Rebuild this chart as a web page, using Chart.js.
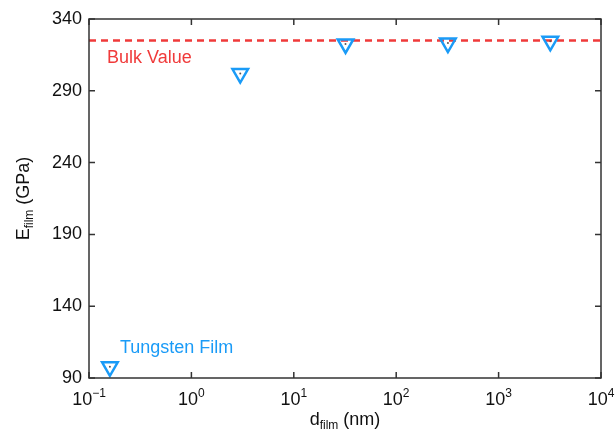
<!DOCTYPE html>
<html>
<head>
<meta charset="utf-8">
<script src="https://cdn.jsdelivr.net/npm/chart.js@4"></script>
<style>
  html, body { margin: 0; padding: 0; background: #fff; }
  #wrap { width: 615px; height: 437px; }
</style>
</head>
<body>
<div id="wrap"><canvas id="chart" width="615" height="437"></canvas></div>
<script>
// film thickness (nm) and modulus (GPa)
const dFilm = [0.16, 3, 32, 320, 3200];
const eFilm = [97.8, 302, 322.6, 323.2, 324.5];
const bulkValue = 325;
const bulkRange = [0.1, 10000];

const xTicks = [0.1, 1, 10, 100, 1000, 10000];
const xTickExp = ['\u22121', '0', '1', '2', '3', '4'];
const yTicks = [90, 140, 190, 240, 290, 340];

const blue = '#1a9bf7';
const red = '#f03a3a';
const frameColor = '#333';
const fontFamily = '"Liberation Sans", Arial, sans-serif';

// text with a sub/superscript part, drawn piece by piece
function drawParts(ctx, parts, x, y, align) {
  let total = 0;
  parts.forEach(p => {
    ctx.font = p.size + 'px ' + fontFamily;
    total += ctx.measureText(p.text).width;
  });
  let cx = align === 'center' ? x - total / 2 : (align === 'right' ? x - total : x);
  parts.forEach(p => {
    ctx.font = p.size + 'px ' + fontFamily;
    ctx.textAlign = 'left';
    ctx.fillText(p.text, cx, y + (p.dy || 0));
    cx += ctx.measureText(p.text).width;
  });
}

const framePlugin = {
  id: 'frame',
  afterDatasetsDraw(chart) {
    const ctx = chart.ctx;
    const a = chart.chartArea;
    const xs = chart.scales.x, ys = chart.scales.y;
    ctx.save();
    ctx.strokeStyle = frameColor;
    ctx.lineWidth = 1.5;
    ctx.strokeRect(a.left, a.top, a.right - a.left, a.bottom - a.top);

    // inward ticks on all sides
    const tl = 6;
    ctx.beginPath();
    xTicks.forEach(v => {
      const px = xs.getPixelForValue(v);
      ctx.moveTo(px, a.bottom); ctx.lineTo(px, a.bottom - tl);
      ctx.moveTo(px, a.top); ctx.lineTo(px, a.top + tl);
    });
    yTicks.forEach(v => {
      const py = ys.getPixelForValue(v);
      ctx.moveTo(a.left, py); ctx.lineTo(a.left + tl, py);
      ctx.moveTo(a.right, py); ctx.lineTo(a.right - tl, py);
    });
    ctx.stroke();

    // tick labels
    ctx.fillStyle = '#111';
    ctx.textBaseline = 'middle';
    ctx.font = '18px ' + fontFamily;
    ctx.textAlign = 'right';
    yTicks.forEach(v => {
      ctx.fillText(String(v), a.left - 7, ys.getPixelForValue(v));
    });
    ctx.textBaseline = 'alphabetic';
    xTicks.forEach((v, i) => {
      drawParts(ctx, [
        { text: '10', size: 18 },
        { text: xTickExp[i], size: 12, dy: -8 }
      ], xs.getPixelForValue(v), a.bottom + 27, 'center');
    });

    // axis titles
    drawParts(ctx, [
      { text: 'd', size: 18 },
      { text: 'film', size: 12, dy: 4 },
      { text: ' (nm)', size: 18 }
    ], (a.left + a.right) / 2, 425, 'center');

    ctx.save();
    ctx.translate(29, (a.top + a.bottom) / 2);
    ctx.rotate(-Math.PI / 2);
    drawParts(ctx, [
      { text: 'E', size: 18 },
      { text: 'film', size: 12, dy: 4 },
      { text: ' (GPa)', size: 18 }
    ], 0, 0, 'center');
    ctx.restore();

    // annotations
    ctx.font = '18px ' + fontFamily;
    ctx.textAlign = 'left';
    ctx.textBaseline = 'middle';
    ctx.fillStyle = red;
    ctx.fillText('Bulk Value', a.left + 18, ys.getPixelForValue(bulkValue) + 17);
    ctx.fillStyle = blue;
    ctx.fillText('Tungsten Film', xs.getPixelForValue(dFilm[0]) + 10, ys.getPixelForValue(eFilm[0]) - 19);
    ctx.restore();
  }
};

new Chart(document.getElementById('chart'), {
  type: 'scatter',
  data: {
    datasets: [
      {
        type: 'line',
        data: bulkRange.map(x => ({ x: x, y: bulkValue })),
        borderColor: red,
        borderWidth: 2.5,
        borderDash: [7, 5],
        pointRadius: 0,
        fill: false,
        order: 3
      },
      {
        data: dFilm.map((x, i) => ({ x: x, y: eFilm[i] })),
        pointStyle: 'triangle',
        rotation: 180,
        radius: 9,
        borderColor: blue,
        backgroundColor: 'rgba(0,0,0,0)',
        borderWidth: 2.5,
        clip: false,
        order: 2
      },
      {
        data: dFilm.map((x, i) => ({ x: x, y: eFilm[i] })),
        pointStyle: 'circle',
        radius: 1,
        borderWidth: 0,
        backgroundColor: '#555',
        clip: false,
        order: 1
      }
    ]
  },
  options: {
    responsive: false,
    animation: false,
    events: [],
    layout: { padding: { left: 89, top: 19, right: 14, bottom: 59 } },
    plugins: { legend: { display: false }, tooltip: { enabled: false } },
    scales: {
      x: { type: 'logarithmic', min: 0.1, max: 10000, display: false },
      y: { type: 'linear', min: 90, max: 340, display: false }
    }
  },
  plugins: [framePlugin]
});
</script>
</body>
</html>
